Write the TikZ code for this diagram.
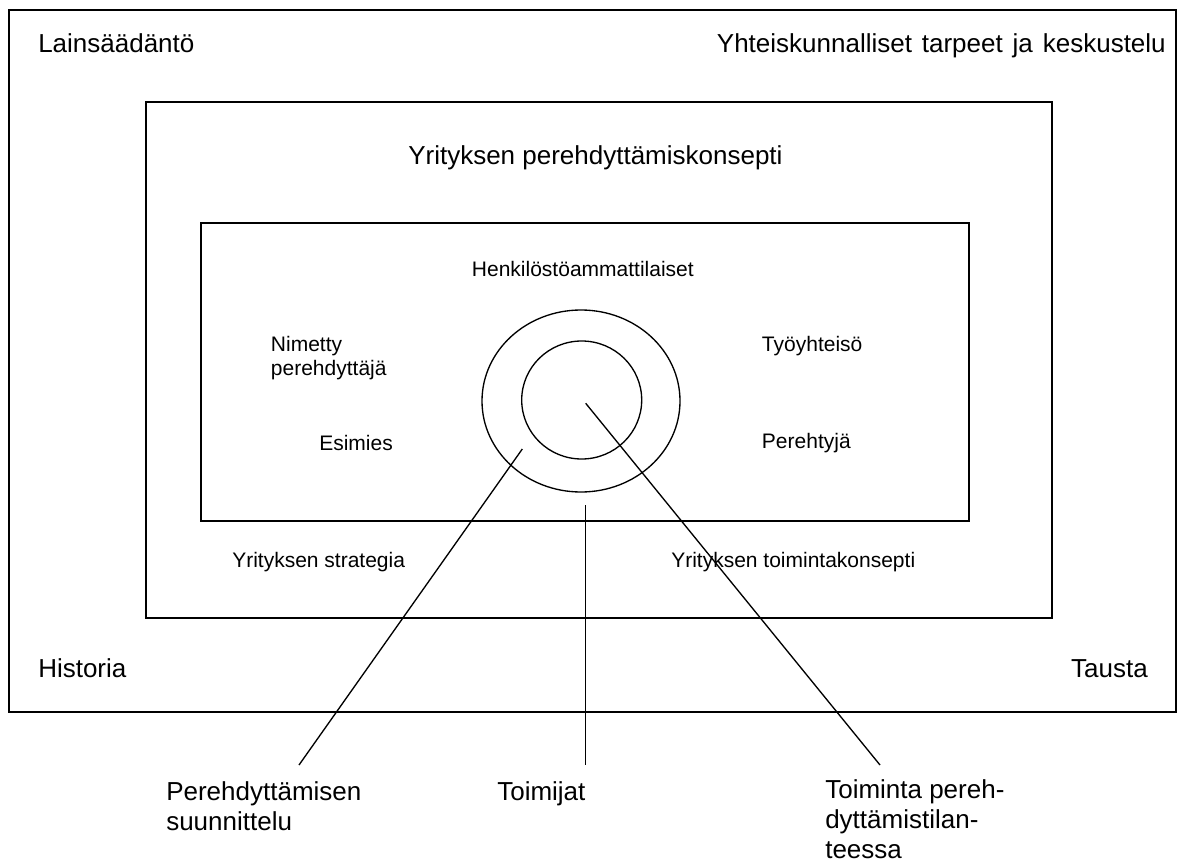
\documentclass[tikz,border=0pt]{standalone}
\usepackage{fontspec}
\setmainfont{Liberation Sans}
\begin{document}
\begin{tikzpicture}[x=0.75pt,y=-0.75pt,
  big/.style={font=\fontsize{19.5pt}{22.5pt}\selectfont, inner sep=0pt, align=left},
  small/.style={font=\fontsize{15.75pt}{17.6pt}\selectfont, inner sep=0pt, align=left},
  frame/.style={draw=black, line width=1.3pt},
  ring/.style={draw=black, line width=1pt},
  conn/.style={draw=black, line width=1pt}]
\useasboundingbox (0,0) rectangle (1181,863);
% frames
\draw[frame, line width=1.6pt] (9,10) rectangle (1176,712);
\draw[frame] (146,102) rectangle (1052,618);
\draw[frame] (201,223) rectangle (969,521);
% circles
\draw[ring] (581,401) ellipse [x radius=99, y radius=91];
\draw[ring] (581.7,400) ellipse [x radius=60, y radius=59];
% texts
\node[big, anchor=base west] (lain) at (38,53) {Lainsäädäntö};
\node[big, anchor=base east] (yht) at (1166,53) {Yhteiskunnalliset\hspace{2pt} tarpeet\hspace{2pt} ja\hspace{2pt} keskustelu};
\node[big, anchor=base west] (hist) at (38,677) {Historia};
\node[big, anchor=base east] (taus) at (1148,677) {Tausta};
\node[big, anchor=base west] (ype) at (408,165) {Yrityksen perehdyttämiskonsepti};
\node[small, anchor=base west] (henk) at (471.7,276) {Henkilöstöammattilaiset};
\node[small, anchor=base west] (nim) at (270.7,375) {Nimetty\\perehdyttäjä};
\node[small, anchor=base west] (esi) at (319,450) {Esimies};
\node[small, anchor=base west] (tyo) at (761.7,351.7) {Työyhteisö};
\node[small, anchor=base west] (per) at (761.7,448) {Perehtyjä};
\node[small, anchor=base west] (ystr) at (232,567) {Yrityksen strategia};
\node[small, anchor=base west] (ytk) at (671,567) {Yrityksen toimintakonsepti};
\node[big, anchor=base west] (psu) at (166,830) {Perehdyttämisen\\suunnittelu};
\node[big, anchor=base west] (toi) at (497,800) {Toimijat};
\node[big, anchor=base west] (tpt) at (825,858) {Toiminta pereh-\\dyttämistilan-\\teessa};
% connectors
\coordinate (p1s) at (522.3,449);
\coordinate (p1e) at (299,765);
\coordinate (p2s) at (585.7,505);
\coordinate (p2e) at (585.7,765);
\coordinate (p3s) at (585.7,403.3);
\coordinate (p3e) at (880,765);
\draw[conn] (p1s) -- (p1e);
\draw[conn] (p2s) -- (p2e);
\draw[conn] (p3s) -- (p3e);
\end{tikzpicture}
\end{document}
